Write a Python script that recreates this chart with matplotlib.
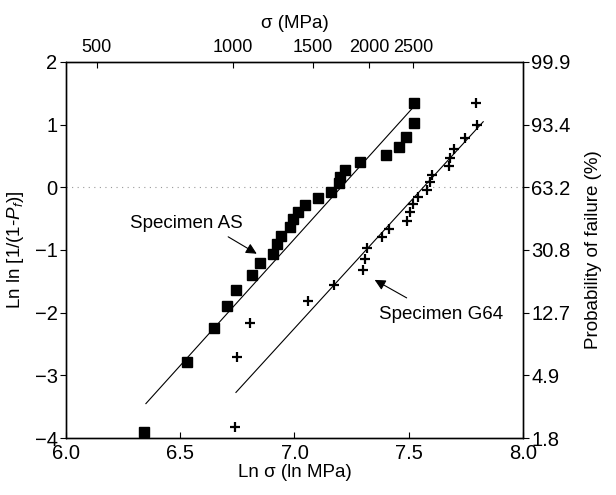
import numpy as np
import matplotlib
matplotlib.use('Agg')
import matplotlib.pyplot as plt

plt.rcParams['font.family'] = ['Liberation Sans', 'DejaVu Sans']
plt.rcParams['mathtext.fontset'] = 'custom'
plt.rcParams['mathtext.it'] = 'Liberation Sans:italic'
plt.rcParams['mathtext.rm'] = 'Liberation Sans'

# Specimen AS (squares)
as_x = [7.522, 7.522, 7.487, 7.456, 7.399, 7.286, 7.221, 7.199, 7.194, 7.158,
        7.102, 7.047, 7.016, 6.994, 6.982, 6.943, 6.924, 6.906, 6.849, 6.816,
        6.744, 6.705, 6.650, 6.532, 6.342]
as_y = [1.35, 1.03, 0.80, 0.64, 0.52, 0.40, 0.28, 0.16, 0.07, -0.07,
        -0.17, -0.28, -0.39, -0.51, -0.64, -0.77, -0.91, -1.06, -1.21, -1.40,
        -1.64, -1.90, -2.24, -2.78, -3.90]

# Specimen G64 (crosses)
g64_x = [7.795, 7.798, 7.747, 7.697, 7.680, 7.678, 7.601, 7.592, 7.580, 7.541,
         7.519, 7.506, 7.491, 7.414, 7.385, 7.319, 7.307, 7.301, 7.172, 7.060,
         6.804, 6.749, 6.738]
g64_y = [1.34, 1.00, 0.78, 0.61, 0.47, 0.34, 0.20, 0.09, -0.04, -0.15,
         -0.26, -0.40, -0.54, -0.67, -0.80, -0.97, -1.14, -1.32, -1.56, -1.81,
         -2.16, -2.70, -3.83]

# Weibull fits: modulus m, ln(sigma0), x-range of the drawn line
as_fit = (4.04, 7.204, 6.350, 7.524)
g64_fit = (3.99, 7.564, 6.744, 7.826)

prob_labels = ['1.8', '4.9', '12.7', '30.8', '63.2', '93.4', '99.9']
prob_pos = [-4, -3, -2, -1, 0, 1, 2]
sigma_ticks = [500, 1000, 1500, 2000, 2500]

TS = 14.5  # tick label size
LS = 13.5  # label size

fig = plt.figure(figsize=(6.16, 4.95), dpi=100)
ax = fig.add_axes([0.107, 0.115, 0.742, 0.76])

ax.axhline(0, color='#999999', lw=0.8, ls=(0, (1, 4)))

for m, lns0, x0, x1 in (as_fit, g64_fit):
    xx = np.array([x0, x1])
    ax.plot(xx, m * (xx - lns0), color='black', lw=0.8)

ax.plot(as_x, as_y, 's', color='black', ms=6.5, ls='none')
ax.plot(g64_x, g64_y, '+', color='black', ms=7.5, mew=1.6, ls='none')

ax.set_xlim(6.0, 8.0)
ax.set_ylim(-4, 2)
ax.set_xticks([6.0, 6.5, 7.0, 7.5, 8.0])
ax.set_xticklabels(['6.0', '6.5', '7.0', '7.5', '8.0'])
ax.set_yticks([-4, -3, -2, -1, 0, 1, 2])
ax.tick_params(axis='x', direction='in', length=4, labelsize=TS, pad=4)
ax.tick_params(axis='y', direction='out', length=4, labelsize=TS, pad=2)
ax.set_xlabel('Ln σ (ln MPa)', fontsize=LS, labelpad=1)
ax.set_ylabel('Ln ln [1/(1-$P_\\mathit{f}$)]', fontsize=LS, labelpad=6)

ax.text(6.526, -0.584, 'Specimen AS', fontsize=LS, ha='center', va='center')
ax.annotate('', xy=(6.835, -1.06), xytext=(6.71, -0.79),
            arrowprops=dict(arrowstyle='-|>', color='black', lw=0.8,
                            shrinkA=0, shrinkB=0, mutation_scale=16))
ax.text(7.64, -2.035, 'Specimen G64', fontsize=LS, ha='center', va='center')
ax.annotate('', xy=(7.351, -1.477), xytext=(7.491, -1.764),
            arrowprops=dict(arrowstyle='-|>', color='black', lw=0.8,
                            shrinkA=0, shrinkB=0, mutation_scale=16))

# right axis: probability of failure
ay = ax.twinx()
ay.set_ylim(-4, 2)
ay.set_yticks(prob_pos)
ay.set_yticklabels(prob_labels)
ay.tick_params(axis='y', direction='out', length=4, labelsize=TS, pad=2)
ay.set_ylabel('Probability of failure (%)', fontsize=LS, labelpad=10)

# top axis: sigma in MPa (scale of the original figure)
ax2 = ax.twiny()
ax2.set_xlim(6.0, 8.0)
ax2.set_xticks([0.79 + 0.86 * np.log(s) for s in sigma_ticks])
ax2.set_xticklabels([str(s) for s in sigma_ticks])
ax2.tick_params(axis='x', direction='in', length=4, labelsize=13, pad=4)
ax2.set_xlabel('σ (MPa)', fontsize=LS, labelpad=8)

for a in (ax, ay, ax2):
    for s in a.spines.values():
        s.set_linewidth(0.9)

fig.savefig('out.png', dpi=100)
